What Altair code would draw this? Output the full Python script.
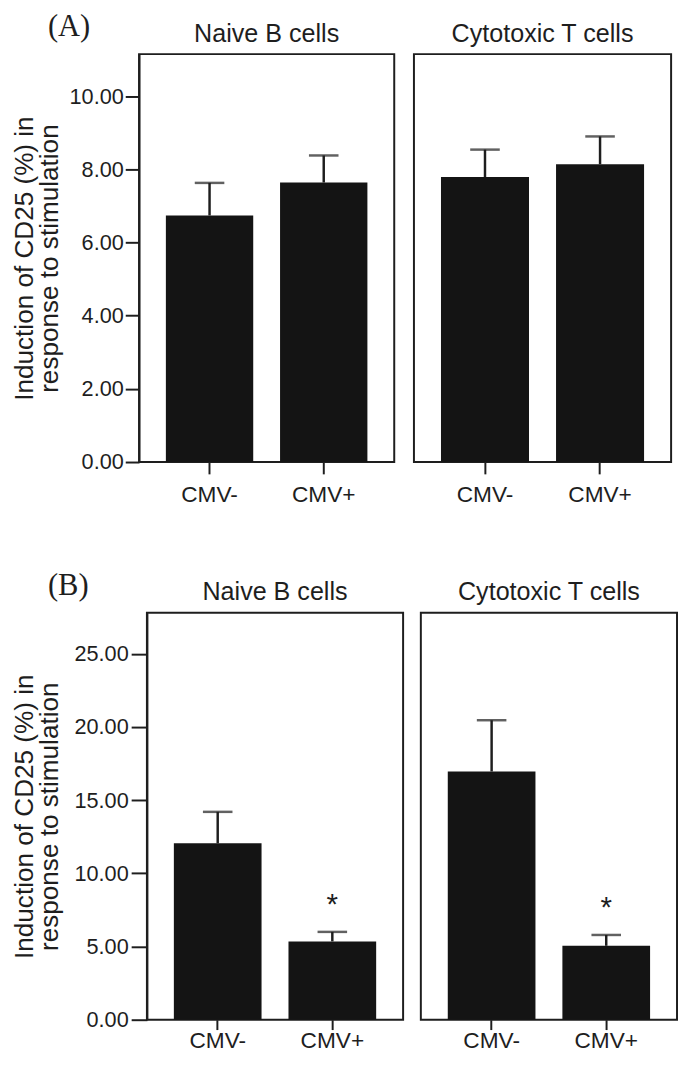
import altair as alt
import pandas as pd

# ---------------- data ----------------
cell_types = ["Naive B cells", "Cytotoxic T cells"]
groups = ["CMV-", "CMV+"]

a_naive_mean = [6.74, 7.64]
a_naive_upper = [7.63, 8.38]
a_cyto_mean = [7.79, 8.14]
a_cyto_upper = [8.54, 8.90]

b_naive_mean = [12.05, 5.35]
b_naive_upper = [14.20, 6.00]
b_cyto_mean = [16.96, 5.05]
b_cyto_upper = [20.46, 5.79]
b_signif = ["", "*"]
a_signif = ["", ""]

a_ticks = [0, 2, 4, 6, 8, 10]
b_ticks = [0, 5, 10, 15, 20, 25]
a_max = 11.15
b_max = 27.8

y_title = ["Induction of CD25 (%) in", "response to stimulation"]

# ---------------- style ----------------
FONT = "Liberation Sans"
SERIF = "Liberation Serif"
INK = "#1e1e1e"
BAR = "#141414"


def panel(cell, means, uppers, sig, ymax, ticks, first, width, height,
          tick_size, label_pad, title_pad, xtick, xpad):
    df = pd.DataFrame({"group": groups, "mean": means, "upper": uppers, "sig": sig})
    xscale = alt.Scale(paddingInner=0.235, paddingOuter=0.235)
    xaxis = alt.Axis(title=None, labelAngle=0, labelFontSize=23, labelFont=FONT,
                     labelColor=INK, tickSize=xtick, tickWidth=2, tickColor=INK,
                     domain=False, labelPadding=xpad)
    x = alt.X("group:N", sort=groups, scale=xscale, axis=xaxis)
    yscale = alt.Scale(domain=[0, ymax], nice=False, zero=True)
    if first:
        yaxis = alt.Axis(title=y_title, values=ticks, format=".2f",
                         labelFontSize=22, labelFont=FONT, labelColor=INK,
                         labelPadding=label_pad, tickSize=tick_size, tickWidth=2,
                         tickColor=INK, domainColor=INK, domainWidth=2,
                         grid=False, titleFont=FONT, titleFontSize=26.5,
                         titleFontWeight="normal", titleColor=INK,
                         titleLineHeight=26, titlePadding=title_pad)
    else:
        yaxis = None
    base = alt.Chart(df)
    bars = base.mark_bar(color=BAR).encode(
        x=x, y=alt.Y("mean:Q", scale=yscale, axis=yaxis))
    stem = base.mark_rule(color=INK, strokeWidth=2.5).encode(
        x=x, y=alt.Y("mean:Q", scale=yscale, axis=yaxis), y2="upper:Q")
    cap = base.mark_tick(color=INK, orient="horizontal", size=30, thickness=2.5).encode(
        x=x, y=alt.Y("upper:Q", scale=yscale, axis=yaxis))
    layers = [bars, stem, cap]
    if any(sig):
        stars = base.mark_text(font=FONT, fontSize=30, color=INK, dy=-27).encode(
            x=x, y=alt.Y("upper:Q", scale=yscale, axis=yaxis), text="sig:N")
        layers.append(stars)
    return alt.layer(*layers).properties(
        width=width, height=height,
        title=alt.TitleParams(cell, frame="group", anchor="middle", font=FONT,
                              fontSize=25.5, fontWeight="normal", color=INK,
                              offset=7),
    )


def spacer():
    return (
        alt.Chart(pd.DataFrame({"v": [0]}))
        .mark_point(size=0, opacity=0, strokeWidth=0)
        .properties(width=1, height=1,
                    view=alt.ViewBackground(stroke="transparent"))
    )


panelsA = alt.hconcat(
    panel(cell_types[0], a_naive_mean, a_naive_upper, a_signif, a_max, a_ticks,
          True, 259, 414, 14, 2, 5.5, 12, 10),
    panel(cell_types[1], a_cyto_mean, a_cyto_upper, a_signif, a_max, a_ticks,
          False, 261, 414, 14, 2, 5.5, 12, 10),
    spacing=18,
)
rowA = alt.hconcat(
    spacer(), panelsA, spacing=0,
    title=alt.TitleParams("(A)", anchor="start", font=SERIF, fontSize=31,
                          fontWeight="normal", color=INK, dx=41, offset=-22.5),
)

panelsB = alt.hconcat(
    panel(cell_types[0], b_naive_mean, b_naive_upper, b_signif, b_max, b_ticks,
          True, 260, 413, 16, 3, 10.5, 10, 0),
    panel(cell_types[1], b_cyto_mean, b_cyto_upper, b_signif, b_max, b_ticks,
          False, 260, 413, 16, 3, 10.5, 10, 0),
    spacing=16,
)
rowB = alt.hconcat(
    spacer(), panelsB, spacing=0,
    title=alt.TitleParams("(B)", anchor="start", font=SERIF, fontSize=31,
                          fontWeight="normal", color=INK, dx=41, offset=-22.5),
)

chart = (
    alt.vconcat(rowA, rowB, spacing=64)
    .properties(padding={"left": -1, "top": -4, "right": 0, "bottom": -6},
                background="white")
    .configure_view(stroke=INK, strokeWidth=2)
)

chart.save("out.html", embed_options={"renderer": "svg", "actions": False})
